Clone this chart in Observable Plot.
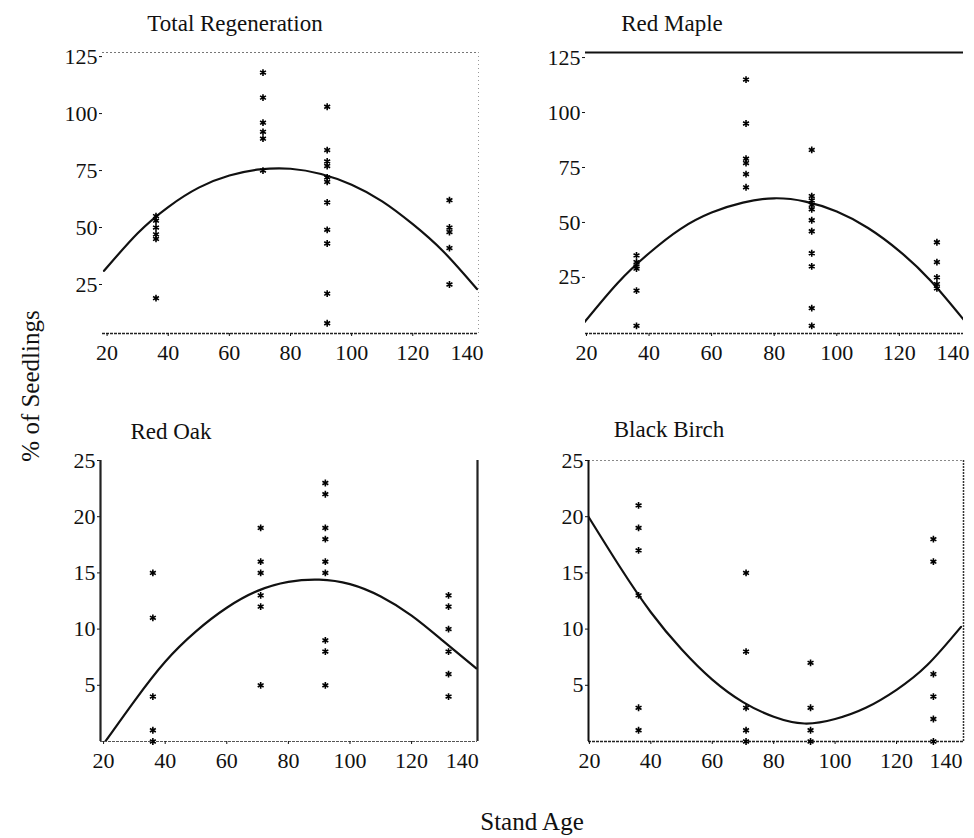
<!DOCTYPE html>
<html><head><meta charset="utf-8">
<script src="https://cdn.jsdelivr.net/npm/d3@7"></script>
<script src="https://cdn.jsdelivr.net/npm/@observablehq/plot@0.6"></script>
<style>
body{margin:0;background:#fff;}
#chart{position:relative;width:974px;height:838px;font-family:"Liberation Serif","DejaVu Serif",serif;color:#111;overflow:hidden;}
.lbl{position:absolute;transform:translate(-50%,-50%);white-space:nowrap;font-size:23px;line-height:1;}
</style></head><body><div id="chart"></div>
<script>
// ---- data ----
const standAges = [36, 71, 92, 132];
const xTicks = [20, 40, 60, 80, 100, 120, 140];
const yTicksTop = [25, 50, 75, 100, 125];
const yTicksBottom = [5, 10, 15, 20, 25];

const totalRegeneration = [[55, 53, 50, 47, 45, 19], [118, 107, 96, 92, 89, 75], [103, 84, 79, 77, 72, 70, 61, 49, 43, 21, 8], [62, 50, 48, 41, 25]];
const redMaple = [[35, 32, 30, 29, 19, 3], [115, 95, 79, 77, 72, 66], [83, 62, 60, 58, 56, 51, 46, 36, 30, 11, 3], [41, 32, 25, 22, 20]];
const redOak = [[15, 11, 4, 1, 0], [19, 16, 15, 13, 12, 5], [23, 22, 19, 18, 16, 15, 9, 8, 5], [13, 12, 10, 8, 6, 4]];
const blackBirch = [[21, 19, 17, 13, 3, 1], [15, 8, 3, 1, 0], [7, 3, 1, 0], [18, 16, 6, 4, 2, 0]];

const curveAges = [19, 30, 40, 50, 60, 70, 80, 90, 100, 110, 120, 130, 141];
const totalFit = [31, 47.5, 59, 67.5, 72.8, 75.5, 75.8, 73.5, 68.8, 61.5, 51.5, 39.5, 23];
const mapleFit = [4, 22.5, 36, 47, 54.5, 59, 61, 59.5, 55, 47.5, 37, 23.5, 5];
const oakFit = [-0.6, 3.6, 7.1, 9.8, 11.9, 13.4, 14.2, 14.4, 14, 12.9, 11.2, 9.0, 6.5];
const birchFit = [20.3, 15.5, 11.5, 8.2, 5.5, 3.5, 2.2, 1.6, 2.0, 3.0, 4.6, 6.8, 10.2];

const titles = ["Total Regeneration", "Red Maple", "Red Oak", "Black Birch"];
const yLabel = "% of Seedlings";
const xLabel = "Stand Age";

// ---- layout ----
const panels = [
  {values: totalRegeneration, fit: totalFit, L: 102, R: 478, T: 52, B: 333, xDomain: [18.5, 141.5], yDomain: [3.5, 126.8], yTicks: yTicksTop, lastDx: -7,
   edges: {top: {stroke: "#777", w: 1.2, dash: "2,2"}, right: {stroke: "#999", w: 1, dash: "1,3"}, bottom: {stroke: "#222", w: 1.6, dash: "3,1"}}},
  {values: redMaple, fit: mapleFit, L: 585, R: 963, T: 52, B: 333, xDomain: [19.7, 140.5], yDomain: [-0.5, 127.3], yTicks: yTicksTop, lastDx: -9,
   edges: {top: {stroke: "#111", w: 1.8}, bottom: {stroke: "#222", w: 1.6, dash: "3,1"}}},
  {values: redOak, fit: oakFit, L: 100, R: 477, T: 460, B: 741, xDomain: [19, 141.4], yDomain: [0, 25], yTicks: yTicksBottom, lastDx: -11,
   edges: {left: {stroke: "#222", w: 2.2}, right: {stroke: "#222", w: 2.2}, bottom: {stroke: "#555", w: 1.2, dash: "3,1"}}},
  {values: blackBirch, fit: birchFit, L: 588, R: 963, T: 460, B: 741, xDomain: [19.7, 141.8], yDomain: [0, 25], yTicks: yTicksBottom, lastDx: -12,
   edges: {top: {stroke: "#888", w: 1, dash: "2,2"}, left: {stroke: "#111", w: 2}, right: {stroke: "#333", w: 1.5, dash: "2,1"}, bottom: {stroke: "#222", w: 1.6, dash: "3,1"}}}
];
const titlePos = [[235, 23], [672, 23], [171, 431], [669, 429]];

const chart = document.getElementById("chart");
const mL = 55, mR = 12, mT = 8, mB = 36;

panels.forEach((p, k) => {
  const pts = p.values.flatMap((vals, i) => vals.map(v => ({age: standAges[i], v})));
  const fit = curveAges.map((a, i) => ({age: a, v: p.fit[i]}));
  const e = p.edges;
  const marks = [];
  if (e.top) marks.push(Plot.ruleY([p.yDomain[1]], {stroke: e.top.stroke, strokeWidth: e.top.w, strokeDasharray: e.top.dash}));
  if (e.bottom) marks.push(Plot.ruleY([p.yDomain[0]], {stroke: e.bottom.stroke, strokeWidth: e.bottom.w, strokeDasharray: e.bottom.dash}));
  if (e.left) marks.push(Plot.ruleX([p.xDomain[0]], {stroke: e.left.stroke, strokeWidth: e.left.w, strokeDasharray: e.left.dash}));
  if (e.right) marks.push(Plot.ruleX([p.xDomain[1]], {stroke: e.right.stroke, strokeWidth: e.right.w, strokeDasharray: e.right.dash}));
  marks.push(Plot.axisX(xTicks.slice(0, -1), {tickSize: 3, tickPadding: 8, label: null}));
  marks.push(Plot.axisX(xTicks.slice(-1), {tickSize: 0, tickPadding: 11, label: null, dx: p.lastDx}));
  marks.push(Plot.line(fit, {x: "age", y: "v", curve: "natural", stroke: "#111", strokeWidth: 2.2, clip: true}));
  marks.push(Plot.dot(pts, {x: "age", y: "v", symbol: "asterisk", r: 3.2, stroke: "#000", strokeWidth: 1.6}));
  const svg = Plot.plot({
    width: p.R - p.L + mL + mR,
    height: p.B - p.T + mT + mB,
    marginLeft: mL, marginRight: mR, marginTop: mT, marginBottom: mB,
    x: {domain: p.xDomain, axis: null},
    y: {domain: p.yDomain, ticks: p.yTicks, tickSize: 3, tickPadding: 2, label: null},
    style: {fontFamily: '"Liberation Serif","DejaVu Serif",serif', fontSize: "22px", color: "#111", background: "transparent", overflow: "visible"},
    marks
  });
  svg.style.position = "absolute";
  svg.style.left = (p.L - mL) + "px";
  svg.style.top = (p.T - mT) + "px";
  chart.appendChild(svg);

  const t = document.createElement("div");
  t.className = "lbl";
  t.textContent = titles[k];
  t.style.left = titlePos[k][0] + "px";
  t.style.top = titlePos[k][1] + "px";
  chart.appendChild(t);
});

const yl = document.createElement("div");
yl.className = "lbl";
yl.textContent = yLabel;
yl.style.left = "30px";
yl.style.top = "386px";
yl.style.fontSize = "25px";
yl.style.transform = "translate(-50%,-50%) rotate(-90deg)";
chart.appendChild(yl);

const xl = document.createElement("div");
xl.className = "lbl";
xl.textContent = xLabel;
xl.style.left = "532px";
xl.style.top = "821px";
xl.style.fontSize = "25px";
chart.appendChild(xl);
</script></body></html>
